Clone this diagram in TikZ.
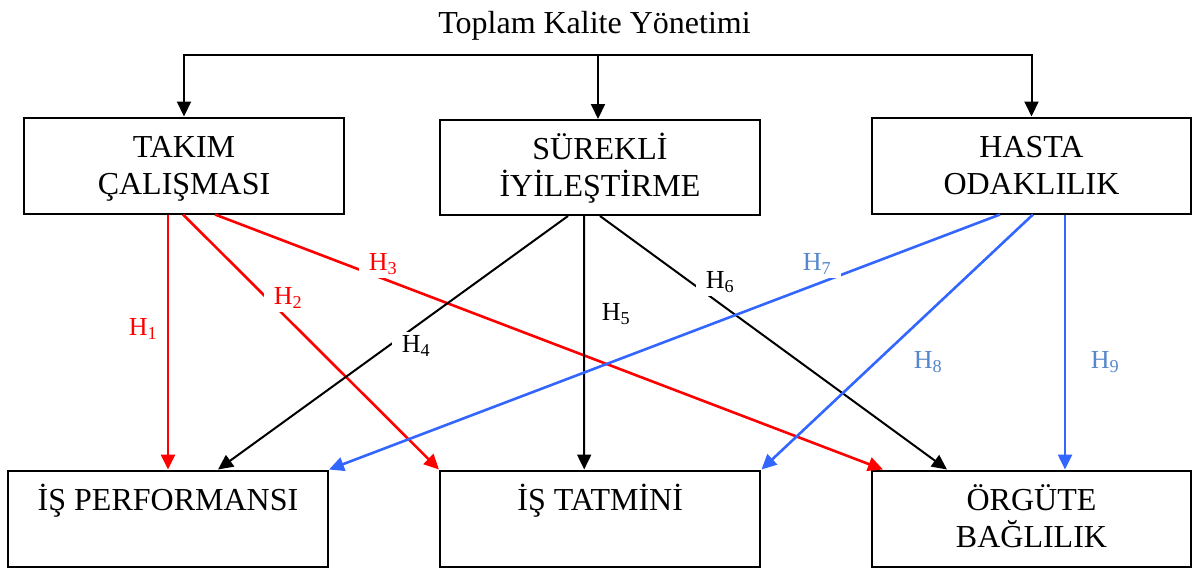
\documentclass[tikz,border=0pt]{standalone}
\usepackage{fontspec}
\setmainfont{Liberation Serif}
\usetikzlibrary{arrows.meta}
\definecolor{hred}{RGB}{255,0,0}
\definecolor{hblue}{RGB}{51,102,255}
\definecolor{hlabel}{RGB}{85,135,205}
% struts that fix the height of the first and the depth of the last line in a box
\newcommand\boxtopstrut{\rule{0pt}{28pt}}
\newcommand\boxbotstrut{\rule[-8pt]{0pt}{8pt}}
\begin{document}
\begin{tikzpicture}[x=1pt,y=-1pt,
  box/.style={draw=black, line width=2pt, minimum width=320pt, minimum height=96pt,
    inner sep=0pt, align=center, font=\fontsize{32}{37}\selectfont},
  feed/.style={black, line width=2pt, -{Triangle[length=15pt,width=14pt]}},
  link/.style={line width=2.6pt, -{Triangle[length=15pt,width=14pt]}},
  hyp/.style={font=\fontsize{26}{30}\selectfont, inner xsep=10pt, inner ysep=4pt},
  cover/.style={hyp, fill=white},
]
\useasboundingbox (0,0) rectangle (1193,568);

% title and the three dimensions
\node[anchor=base, font=\fontsize{32}{37}\selectfont] (title) at (594.5,33) {Toplam Kalite Yönetimi};
\node[box] (tk) at (184,165.5) {\boxtopstrut TAKIM\\ÇALIŞMASI\boxbotstrut};
\node[box, minimum height=95pt] (sr) at (600,167.5) {\boxtopstrut SÜREKLİ\\İYİLEŞTİRME\boxbotstrut};
\node[box, minimum width=319pt] (ho) at (1031.5,165.5) {\boxtopstrut HASTA\\ODAKLILIK\boxbotstrut};

% outcomes
\node[box] (ip) at (168,518.5) {\boxtopstrut İŞ PERFORMANSI\\\boxbotstrut};
\node[box, minimum width=320.5pt] (it) at (600.2,518.5) {\boxtopstrut İŞ TATMİNİ\\\boxbotstrut};
\node[box, minimum width=319pt] (ob) at (1031.5,518.5) {\boxtopstrut ÖRGÜTE\\BAĞLILIK\boxbotstrut};

% distribution bus from the title
\coordinate (bus) at (598,55);
\draw[feed] (bus) -| (tk.north);
\draw[feed] (bus) -| (ho.north);
\draw[feed] (bus) -- (bus |- sr.north);

% hypotheses: team work
\draw[link, hred] ([xshift=-16pt]tk.south) -- (ip.north);
\draw[link, hred] ([xshift=-1pt]tk.south) -- (it.north west);
\draw[link, hred] ([xshift=31pt]tk.south) -- ([xshift=12pt]ob.north west);
% continuous improvement
\draw[link, black, line width=2pt] ([xshift=-32pt]sr.south) -- ([xshift=50pt]ip.north);
\draw[link, black, line width=2pt] ([xshift=-16pt]sr.south) -- ([xshift=-16pt]it.north);
\draw[link, black, line width=2pt] (sr.south) -- ([xshift=76pt]ob.north west);
% patient focus
\draw[link, hblue] ([xshift=-31.5pt]ho.south) -- (ip.north east);
\draw[link, hblue] ([xshift=1.5pt]ho.south) -- (it.north east);
\draw[link, hblue] ([xshift=33.5pt]ho.south) -- ([xshift=33.5pt]ob.north);

% hypothesis labels
\node[cover, text=hred] (h1) at (143,329) {H\textsubscript{1}};
\node[cover, text=hred] (h2) at (288,298) {H\textsubscript{2}};
\node[cover, text=hred] (h3) at (383,264) {H\textsubscript{3}};
\node[cover, text=black] (h4) at (416,346) {H\textsubscript{4}};
\node[hyp, text=black] (h5) at (616,314) {H\textsubscript{5}};
\node[cover, text=black] (h6) at (720,282) {H\textsubscript{6}};
\node[cover, text=hlabel] (h7) at (817,264) {H\textsubscript{7}};
\node[hyp, text=hlabel] (h8) at (928,362) {H\textsubscript{8}};
\node[hyp, text=hlabel] (h9) at (1105,362) {H\textsubscript{9}};
\end{tikzpicture}
\end{document}
